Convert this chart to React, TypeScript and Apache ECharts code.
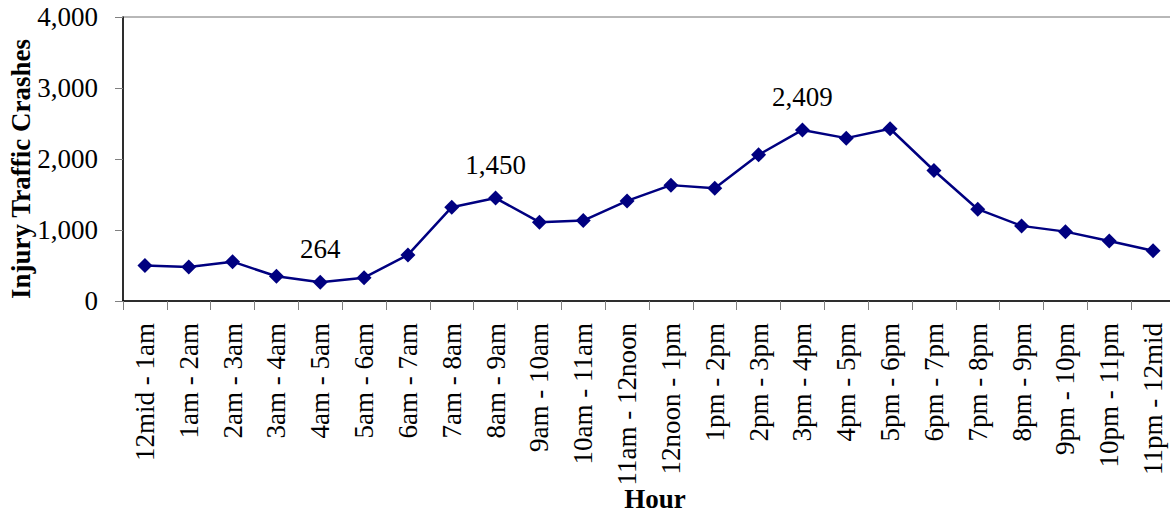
import React, { useEffect, useRef } from "react";
import * as echarts from "echarts";

const categories = [
  "12mid - 1am", "1am - 2am", "2am - 3am", "3am - 4am", "4am - 5am", "5am - 6am",
  "6am - 7am", "7am - 8am", "8am - 9am", "9am - 10am", "10am - 11am", "11am - 12noon",
  "12noon - 1pm", "1pm - 2pm", "2pm - 3pm", "3pm - 4pm", "4pm - 5pm", "5pm - 6pm",
  "6pm - 7pm", "7pm - 8pm", "8pm - 9pm", "9pm - 10pm", "10pm - 11pm", "11pm - 12mid",
];

const crashes = [
  500, 480, 554, 348, 264, 329, 649, 1321, 1450, 1110, 1133, 1410,
  1632, 1589, 2059, 2409, 2294, 2426, 1838, 1293, 1058, 977, 846, 709,
];

const labelledIndices = [4, 8, 15];

const yAxisTitle = "Injury Traffic Crashes";
const xAxisTitle = "Hour";

const FONT = "'Liberation Serif', 'Times New Roman', serif";
const FS = 27;

const fmt = (v: number) => v.toLocaleString("en-US");

export default function App() {
  const ref = useRef<HTMLDivElement>(null);

  useEffect(() => {
    if (!ref.current) return;
    const chart = echarts.init(ref.current, undefined, { renderer: "svg" });
    chart.setOption({
      animation: false,
      backgroundColor: "#ffffff",
      grid: {
        left: 123,
        right: -5,
        top: 17,
        bottom: 213,
        show: true,
        borderColor: "#707070",
        borderWidth: 1,
        containLabel: false,
        outerBoundsMode: "none",
      },
      graphic: [
        {
          type: "text",
          x: 21,
          y: 169,
          rotation: Math.PI / 2,
          style: {
            text: yAxisTitle,
            fontFamily: FONT,
            fontSize: FS,
            fontWeight: "bold",
            fill: "#000000",
            align: "center",
            verticalAlign: "middle",
          },
        },
        {
          type: "text",
          x: 655,
          y: 499,
          style: {
            text: xAxisTitle,
            fontFamily: FONT,
            fontSize: FS,
            fontWeight: "bold",
            fill: "#000000",
            align: "center",
            verticalAlign: "middle",
          },
        },
      ],
      xAxis: {
        type: "category",
        data: categories,
        boundaryGap: true,
        axisLine: { show: true, lineStyle: { color: "#000000", width: 1.5 } },
        axisTick: { show: true, length: 9, alignWithLabel: false, lineStyle: { color: "#808080" } },
        axisLabel: {
          rotate: 90,
          interval: 0,
          margin: 22,
          fontFamily: FONT,
          fontSize: FS,
          color: "#000000",
        },
        splitLine: { show: false },
      },
      yAxis: {
        type: "value",
        min: 0,
        max: 4000,
        interval: 1000,
        axisLine: { show: true, lineStyle: { color: "#000000", width: 1.5 } },
        axisTick: { show: true, length: 8, lineStyle: { color: "#808080" } },
        axisLabel: {
          margin: 25,
          fontFamily: FONT,
          fontSize: FS,
          color: "#000000",
          formatter: (v: number) => fmt(v),
        },
        splitLine: { show: false },
      },
      series: [
        {
          type: "line",
          data: crashes.map((v, i) => ({
            value: v,
            label: {
              show: labelledIndices.includes(i),
              position: "top",
              distance: 12,
              fontFamily: FONT,
              fontSize: FS,
              color: "#000000",
              formatter: () => fmt(v),
            },
          })),
          symbol: "diamond",
          symbolSize: [15, 15],
          lineStyle: { color: "#000080", width: 2.5 },
          itemStyle: { color: "#000080" },
        },
      ],
    });
    return () => chart.dispose();
  }, []);

  return (
    <div
      ref={ref}
      style={{ position: "fixed", left: 0, top: 0, width: 1170, height: 514 }}
    />
  );
}
